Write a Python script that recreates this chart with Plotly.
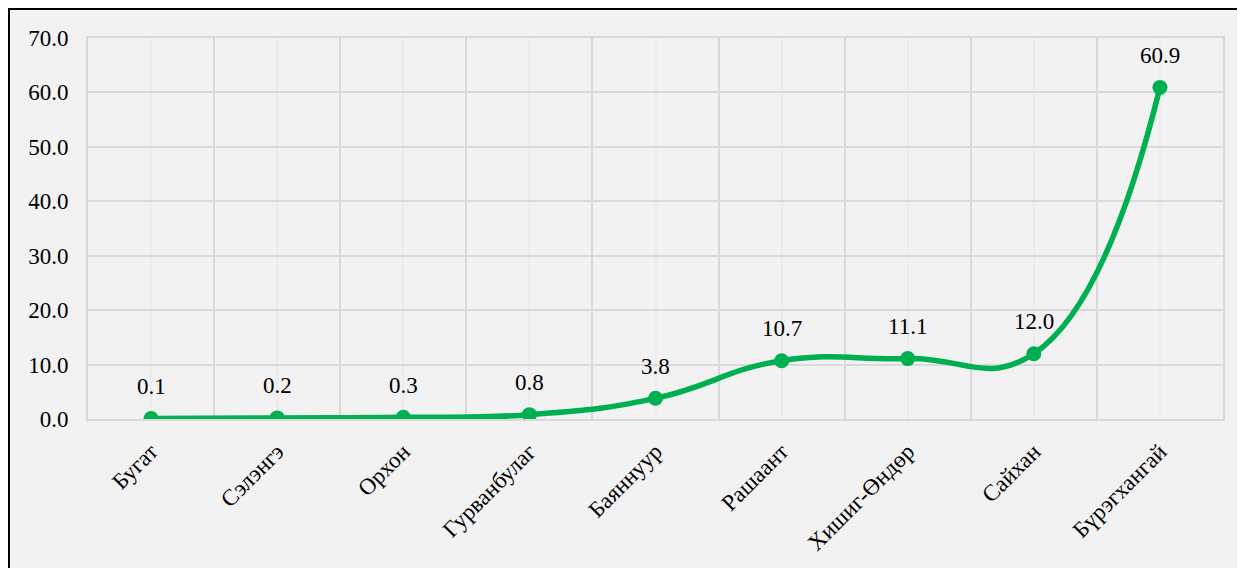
import plotly.graph_objects as go

categories = ["Бугат", "Сэлэнгэ", "Орхон", "Гурванбулаг", "Баяннуур",
              "Рашаант", "Хишиг-Өндөр", "Сайхан", "Бүрэгхангай"]
values = [0.1, 0.2, 0.3, 0.8, 3.8, 10.7, 11.1, 12.0, 60.9]
y_ticks = [0, 10, 20, 30, 40, 50, 60, 70]

GREEN = "#00b050"
FONT = "'Liberation Serif', 'Times New Roman', 'DejaVu Serif', serif"
FS = 23
xs = list(range(len(categories)))

fig = go.Figure()
fig.add_trace(go.Scatter(
    x=xs, y=values, mode="lines+markers",
    line=dict(color=GREEN, width=5.5, shape="spline", smoothing=1.3),
    marker=dict(color=GREEN, size=15),
    hoverinfo="skip", showlegend=False,
))

for xi, v in zip(xs, values):
    fig.add_annotation(x=xi, y=v, text=f"{v:.1f}", showarrow=False,
                       yshift=32, font=dict(family=FONT, size=FS, color="#000000"))

# chart frame (gray panel with black border)
fig.add_shape(type="rect", xref="paper", yref="paper",
              x0=-0.0696, x1=1.2, y0=-0.6, y1=1.0761,
              line=dict(color="#000000", width=2), fillcolor="#f2f2f2",
              layer="below")

fig.update_layout(
    width=1237, height=560,
    margin=dict(l=80, r=22, t=30, b=149, autoexpand=False),
    paper_bgcolor="#ffffff", plot_bgcolor="#ffffff",
    font=dict(family=FONT, size=FS, color="#000000"),
    xaxis=dict(
        automargin=False,
        range=[-0.5, len(categories) - 0.5],
        tickmode="array", tickvals=xs, ticktext=categories,
        tickangle=-45, showgrid=True, gridcolor="#ececec", gridwidth=1.5,
        zeroline=False, showline=True, linecolor="#d9d9d9", linewidth=2,
        mirror=True, ticks="", ticklabelstandoff=8,
        minor=dict(tickmode="linear", tick0=-0.5, dtick=1, showgrid=True,
                   gridcolor="#d9d9d9", gridwidth=2),
        tickfont=dict(family=FONT, size=FS),
    ),
    yaxis=dict(
        automargin=False,
        range=[0, 70], tickmode="array", tickvals=y_ticks,
        ticktext=[f"{t:.1f}" for t in y_ticks],
        showgrid=True, gridcolor="#d9d9d9", gridwidth=2,
        zeroline=False, showline=True, linecolor="#d9d9d9", linewidth=2,
        mirror=True, ticks="", ticklabelstandoff=13,
        tickfont=dict(family=FONT, size=FS),
    ),
)

fig.write_html("out.html")
